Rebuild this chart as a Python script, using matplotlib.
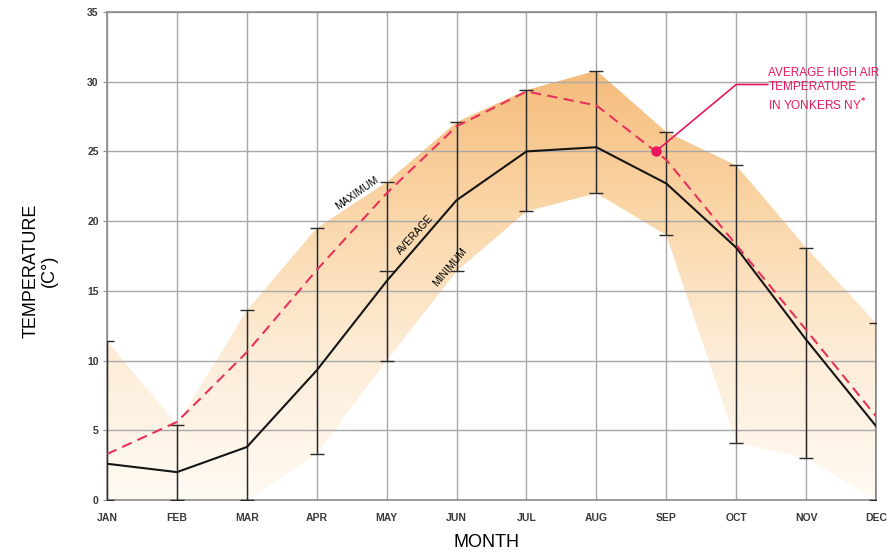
import numpy as np
import matplotlib
matplotlib.use("Agg")
import matplotlib.pyplot as plt
from matplotlib.colors import LinearSegmentedColormap

plt.rcParams['font.family'] = ['Liberation Sans', 'DejaVu Sans']

# Monthly temperatures (C)
months = ['JAN', 'FEB', 'MAR', 'APR', 'MAY', 'JUN',
          'JUL', 'AUG', 'SEP', 'OCT', 'NOV', 'DEC']
t_avg = [2.6, 2.0, 3.8, 9.3, 15.7, 21.5, 25.0, 25.3, 22.7, 18.1, 11.5, 5.3]
t_max = [11.4, 5.4, 13.6, 19.5, 22.8, 27.1, 29.4, 30.8, 26.4, 24.0, 18.1, 12.7]
t_min = [0.0, 0.0, 0.0, 3.3, 10.0, 16.4, 20.7, 22.0, 19.0, 4.1, 3.0, 0.0]
yonkers_high = [3.3, 5.6, 10.6, 16.5, 22.0, 26.8, 29.3, 28.3, 24.4, 18.3, 12.2, 6.0]
extra_cap = (4, 16.4)          # stray cap on the MAY bar
marker_pt = (7.85, 25.0)       # highlighted point on the Yonkers curve

x = np.arange(len(months))

fig = plt.figure(figsize=(8.89, 5.52), dpi=100)
ax = fig.add_axes([0.1204, 0.0942, 0.8650, 0.8841])

# gradient band between min and max
band = ax.fill_between(x, t_min, t_max, facecolor='none', edgecolor='none')
cmap = LinearSegmentedColormap.from_list(
    'band', ['#fffaf3', '#fdedd8', '#fad6a8', '#f5bb7a'])
grad = np.linspace(0, 1, 256).reshape(-1, 1)
img = ax.imshow(grad, extent=[0, 11, 0, 31], origin='lower', aspect='auto',
                cmap=cmap, zorder=1)
img.set_clip_path(band.get_paths()[0], transform=ax.transData)

ax.set_xlim(0, 11)
ax.set_ylim(0, 35)
ax.set_xticks(x)
ax.set_xticklabels(months)
ax.set_yticks(range(0, 36, 5))
ax.grid(True, color='#a8a8a8', lw=1.0, zorder=2)
ax.set_axisbelow(False)
for s in ax.spines.values():
    s.set_color('#8c8c8c')
    s.set_linewidth(1.2)
    s.set_zorder(3)
ax.tick_params(axis='x', length=0, pad=9, labelsize=7.5, colors='#3a3a3a')
ax.tick_params(axis='y', length=3, width=0.8, color='#8c8c8c', pad=3,
               labelsize=7.5, labelcolor='#3a3a3a')
for lab in ax.get_xticklabels() + ax.get_yticklabels():
    lab.set_fontweight('bold')

# error bars
ax.errorbar(x, t_avg, yerr=[np.array(t_avg) - np.array(t_min),
                            np.array(t_max) - np.array(t_avg)],
            fmt='none', ecolor='#2a2a2a', elinewidth=1.0, capsize=5,
            capthick=1.0, zorder=4)
ax.plot([extra_cap[0] - 0.1, extra_cap[0] + 0.1], [extra_cap[1]] * 2,
        color='#2a2a2a', lw=1.0, zorder=4)

ax.plot(x, t_avg, color='#151515', lw=1.5, zorder=5)
ax.plot(x, yonkers_high, color='#e8325c', lw=1.5, ls=(0, (5, 3)), zorder=6)

# curve labels
ax.text(3.58, 22.0, 'MAXIMUM', rotation=35, fontsize=7.5, ha='center',
        va='center', zorder=7)
ax.text(4.41, 19.0, 'AVERAGE', rotation=48, fontsize=7.5, ha='center',
        va='center', zorder=7)
ax.text(4.90, 16.7, 'MINIMUM', rotation=50, fontsize=7.5, ha='center',
        va='center', zorder=7)

# callout
red = '#e8175d'
ax.plot(*marker_pt, 'o', color=red, ms=6.5, zorder=8)
ax.plot([marker_pt[0], 9.0, 9.45], [marker_pt[1], 29.8, 29.8],
        color=red, lw=1.2, zorder=8, clip_on=False)
ax.text(9.46, 30.63, 'AVERAGE HIGH AIR', color=red,
        fontsize=8.5, ha='left', va='center', zorder=8)
ax.text(9.46, 29.63, 'TEMPERATURE', color=red,
        fontsize=8.5, ha='left', va='center', zorder=8)
ax.text(9.46, 28.34, r'IN YONKERS NY$^{\mathbf{*}}$', color=red,
        fontsize=8.5, ha='left', va='center', zorder=8)

fig.text(0.045, 0.509, 'TEMPERATURE\n(C°)', rotation=90, ha='center',
         va='center', fontsize=13, multialignment='center', linespacing=1.1)
fig.text(0.547, 0.018, 'MONTH', ha='center', va='center', fontsize=13)

fig.savefig('out.png', dpi=100)
